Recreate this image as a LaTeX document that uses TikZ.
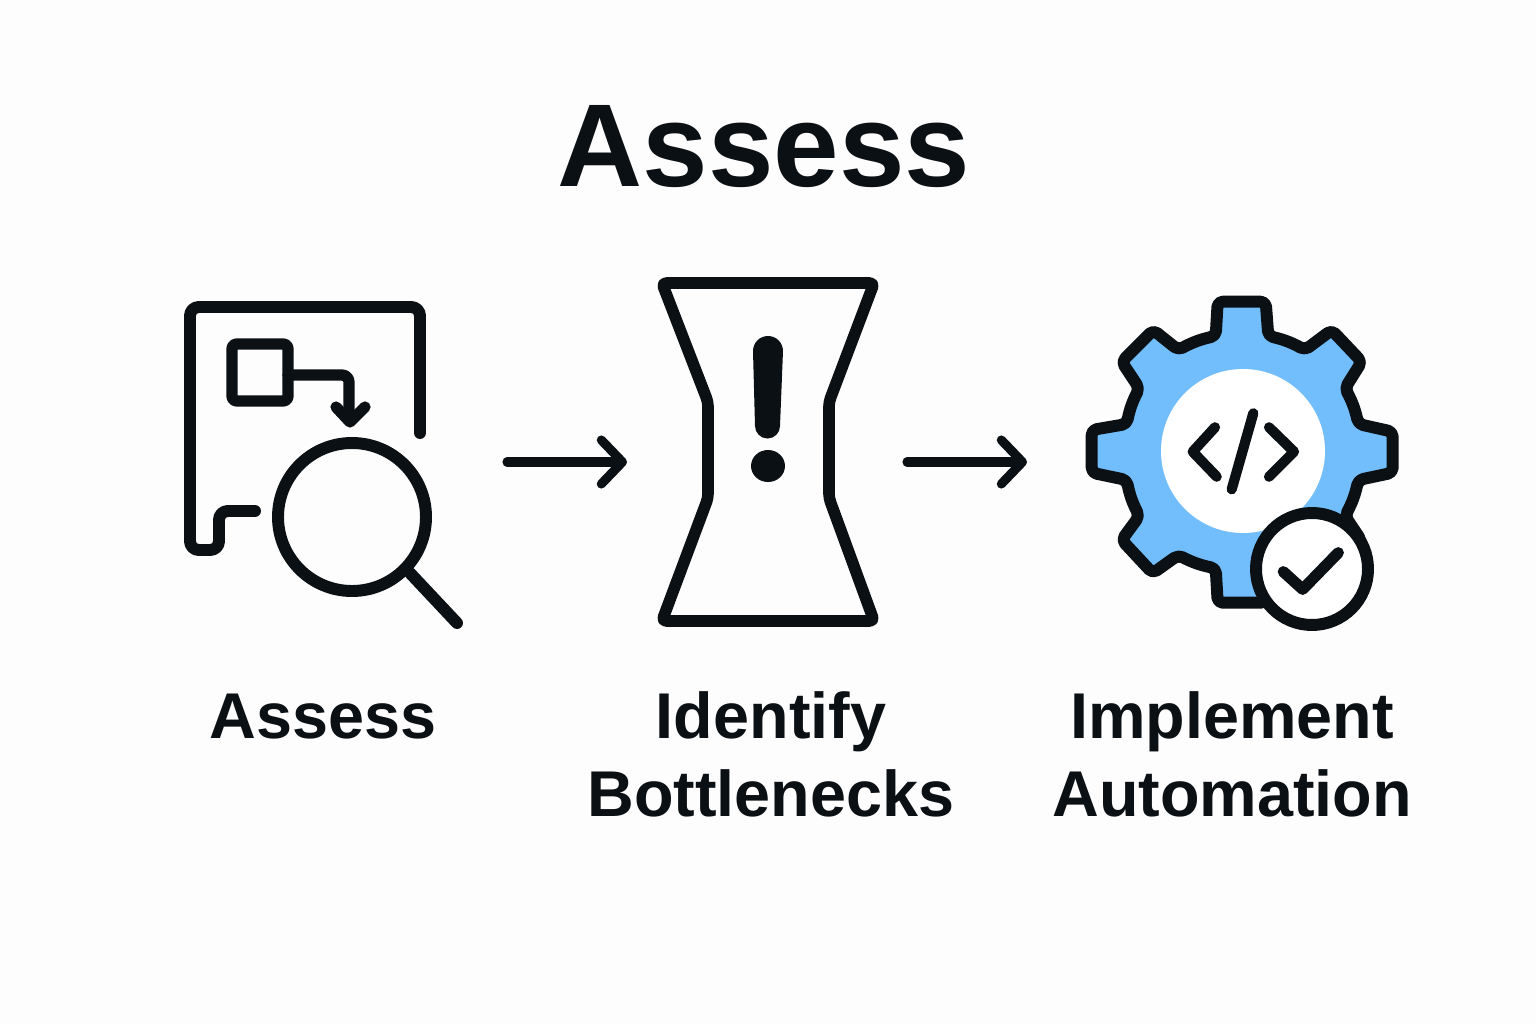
\documentclass[tikz,border=0pt]{standalone}
\usepackage{fontspec}
\setmainfont{Liberation Sans}
\usetikzlibrary{arrows.meta}
\definecolor{ink}{HTML}{0B1014}
\definecolor{gearblue}{HTML}{72BEFC}
\definecolor{paper}{HTML}{FDFDFD}
\tikzset{
  icon/.style={draw=ink,line width=3.4pt,line cap=round,line join=round},
  flow/.style={draw=ink,line width=2.6pt,line cap=round,
    -{Straight Barb[length=6pt,width=12.5pt,round]}},
  steplabel/.style={font=\fontsize{18.4}{22.2}\selectfont\bfseries,text=ink,align=center,inner sep=0pt},
}
\begin{document}
\begin{tikzpicture}[x=0.01cm,y=-0.01cm]
    \fill[paper] (0,0) rectangle (1536,1024);
    \useasboundingbox (0,0) rectangle (1536,1024);
    \node[font=\fontsize{33.5}{36}\selectfont\bfseries,text=ink,inner sep=0pt,anchor=base] (title) at (764,186) {Assess};
    % assess icon
    \draw[icon,rounded corners=2.5pt] (420,433) -- (420,307) -- (190,307) -- (190,550) -- (219,550) -- (219,511) -- (255,511);
    \draw[icon,line width=3.2pt,rounded corners=1.2pt] (232,344) rectangle (288,401);
    \draw[icon,line width=3.2pt,rounded corners=2pt] (288,375) -- (349,375) -- (349,420);
    \draw[icon,line width=3.2pt] (336,407) -- (350,422) -- (365,407);
    \draw[icon] (352,517) circle (74);
    \draw[icon] (410,573) -- (457,623);
    % identify icon
    \draw[icon,line width=3.3pt,rounded corners=1.2pt] (662,283) -- (874,283) -- (829,402) -- (829,498) -- (874,621) -- (662,621) -- (708,498) -- (708,402) -- cycle;
    \fill[ink] (753,351) arc (180:360:15) -- (780,426) arc (0:180:12.5) -- cycle;
    \fill[ink] (768,466) ellipse (17 and 16);
    % implement icon
    \draw[icon,fill=gearblue,rounded corners=1.4pt] (1217.7,301.7) -- (1265.7,301.7) -- (1268.3,336)
      to[bend left=8] (1305,350) -- (1331.7,330) -- (1361.7,361.7) -- (1345,388.3)
      to[bend left=8] (1358.3,424) -- (1392.7,431.7) -- (1392.7,472.7) -- (1358.3,480)
      to[bend left=8] (1345,516) -- (1361.7,541) -- (1331.7,572.7) -- (1305,552.7)
      to[bend left=8] (1268.3,568.3) -- (1265.7,602.7) -- (1217.7,602.7) -- (1215.7,568.3)
      to[bend left=8] (1178.3,555) -- (1152.7,573.3) -- (1121.7,540) -- (1139.3,516)
      to[bend left=8] (1126.7,480) -- (1091.7,472.7) -- (1091.7,430) -- (1126.7,424)
      to[bend left=8] (1139.3,388.3) -- (1121.7,361.7) -- (1153.3,330) -- (1178.3,350)
      to[bend left=8] (1215.7,336) -- cycle;
    \fill[white] (1243,451) circle (82);
    \draw[icon,line width=2.9pt] (1215,427.3) -- (1192.7,451.7) -- (1216.7,476.7);
    \draw[icon,line width=2.9pt] (1253.3,413.3) -- (1231.7,489.3);
    \draw[icon,line width=2.9pt] (1269,427.3) -- (1294,451.7) -- (1269,476.7);
    \draw[icon,fill=white] (1312,569) circle (56);
    \draw[icon,line width=3.2pt] (1283.3,571.7) -- (1302.7,589.3) -- (1338.3,552.7);
    % arrows
    \coordinate (assessright) at (507,462);
    \coordinate (identifyleft) at (627,462);
    \coordinate (identifyright) at (907,462);
    \coordinate (implementleft) at (1027,462);
    \draw[flow] (assessright) -- (identifyleft);
    \draw[flow] (identifyright) -- (implementleft);
    % labels
    \node[steplabel,anchor=base] (assesslabel) at (323,738) {Assess};
    \node[steplabel,anchor=base] (identifylabel) at (771,738) {Identify};
    \node[steplabel,anchor=base] (bottlenecklabel) at (771,816) {Bottlenecks};
    \node[steplabel,anchor=base] (implementlabel) at (1232,738) {Implement};
    \node[steplabel,anchor=base] (automationlabel) at (1232,816) {Automation};
\end{tikzpicture}
\end{document}
